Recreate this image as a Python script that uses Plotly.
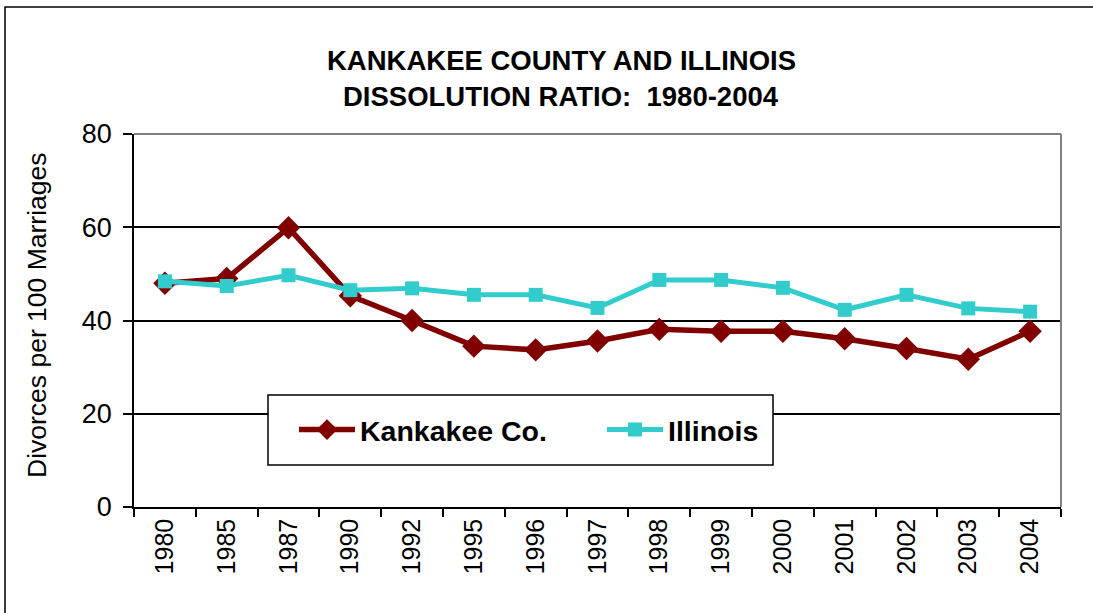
import plotly.graph_objects as go

years = ["1980", "1985", "1987", "1990", "1992", "1995", "1996", "1997",
         "1998", "1999", "2000", "2001", "2002", "2003", "2004"]
kankakee = [48.0, 49.0, 59.9, 45.3, 40.0, 34.5, 33.7, 35.6,
            38.1, 37.7, 37.7, 36.1, 34.0, 31.7, 37.7]
illinois = [48.4, 47.4, 49.7, 46.5, 46.9, 45.5, 45.5, 42.7,
            48.7, 48.7, 47.0, 42.3, 45.5, 42.6, 41.9]
y_ticks = [0, 20, 40, 60, 80]
title_lines = ["KANKAKEE COUNTY AND ILLINOIS", "DISSOLUTION RATIO:  1980-2004"]
y_title = "Divorces per 100 Marriages"

W, H = 1093, 613
L, R, T, B = 134, 1061, 134, 507
pw, ph = R - L, B - T


def px(x):
    return (x - L) / pw


def py(y):
    return (B - y) / ph


font = "Liberation Sans, Arial, sans-serif"

fig = go.Figure()
fig.add_trace(go.Scatter(
    x=years, y=kankakee, name="Kankakee Co.", mode="lines+markers",
    line=dict(color="#800000", width=5.5),
    marker=dict(symbol="diamond", size=18, color="#800000"),
))
fig.add_trace(go.Scatter(
    x=years, y=illinois, name="Illinois", mode="lines+markers",
    line=dict(color="#33CCCC", width=5),
    marker=dict(symbol="square", size=14, color="#33CCCC"),
))

fig.update_layout(
    width=W, height=H,
    margin=dict(l=L, r=W - R, t=T, b=H - B, pad=0),
    paper_bgcolor="white", plot_bgcolor="white",
    font=dict(family=font, color="black"),
    showlegend=True,
    legend=dict(
        orientation="h", x=px(294), y=py(430), xanchor="left", yanchor="middle",
        bgcolor="rgba(0,0,0,0)", borderwidth=0,
        font=dict(size=28.5, family=font, color="black", weight="bold"),
        itemwidth=56, entrywidth=237,
    ),
    xaxis=dict(
        type="category", tickson="boundaries", ticks="outside", ticklen=8,
        tickwidth=1.5, tickcolor="black", showline=True, linecolor="black",
        linewidth=1.5, showgrid=False, tickangle=-90,
        tickfont=dict(size=25, family=font), range=[-0.5, 14.5],
    ),
    yaxis=dict(
        range=[0, 80], tickvals=y_ticks, ticks="outside",
        ticklen=9, tickwidth=1.5, tickcolor="black", showline=True,
        linecolor="black", linewidth=1.5, showgrid=True, gridcolor="black",
        gridwidth=1.5, zeroline=False, tickfont=dict(size=27, family=font),
        ticklabelstandoff=6,
    ),
    annotations=[
        dict(text="<b>%s</b>" % title_lines[0], xref="paper", yref="paper",
             x=px(561), y=py(60), xanchor="center", yanchor="middle",
             showarrow=False, font=dict(size=27.5, family=font)),
        dict(text="<b>%s</b>" % title_lines[1], xref="paper", yref="paper",
             x=px(561), y=py(97), xanchor="center", yanchor="middle",
             showarrow=False, font=dict(size=27.5, family=font)),
        dict(text=y_title, xref="paper", yref="paper", x=px(37), y=py(315),
             xanchor="center", yanchor="middle", textangle=-90,
             showarrow=False, font=dict(size=26.5, family=font)),
    ],
    shapes=[
        dict(type="line", xref="paper", yref="paper", x0=0, x1=1, y0=1, y1=1,
             line=dict(color="#808080", width=2)),
        dict(type="line", xref="paper", yref="paper", x0=1, x1=1, y0=0, y1=1,
             line=dict(color="#808080", width=2)),
        dict(type="rect", xref="paper", yref="paper", x0=px(5), x1=px(1110),
             y0=py(640), y1=py(7), line=dict(color="black", width=1.5),
             fillcolor="rgba(0,0,0,0)", layer="below"),
        dict(type="rect", xref="paper", yref="paper", x0=px(268), x1=px(773),
             y0=py(465), y1=py(395), line=dict(color="black", width=1.5),
             fillcolor="white", layer="above"),
    ],
)

fig.write_html("out.html", config={"displayModeBar": False},
               post_script="document.body.style.margin='0';")
